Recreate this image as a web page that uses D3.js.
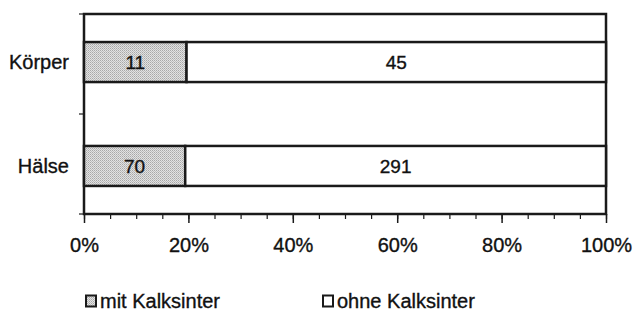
<!DOCTYPE html>
<html>
<head>
<meta charset="utf-8">
<script src="https://cdn.jsdelivr.net/npm/d3@7"></script>
<style>
  body { margin: 0; background: #fff; }
  svg text { font-family: "Liberation Sans", Arial, sans-serif; fill: #111; stroke: #111; stroke-width: 0.35px; }
</style>
</head>
<body>
<div class="container"></div>
<script>
var categories = ["Körper", "Hälse"];
var mitKalksinter = [11, 70];
var ohneKalksinter = [45, 291];
var seriesNames = ["mit Kalksinter", "ohne Kalksinter"];
var tickLabels = ["0%", "20%", "40%", "60%", "80%", "100%"];

var w = 635, h = 316;
var plotLeft = 84, plotRight = 606, plotTop = 14, plotBottom = 214;

var svg = d3.select(".container")
    .append("svg")
    .attr("width", w)
    .attr("height", h);

// stippled grey like the print
var pat = svg.append("defs").append("pattern")
    .attr("id", "stipple")
    .attr("width", 2).attr("height", 2)
    .attr("patternUnits", "userSpaceOnUse");
pat.append("rect").attr("width", 2).attr("height", 2).attr("fill", "#e2e2e2");
pat.append("rect").attr("width", 1).attr("height", 1).attr("fill", "#a8a8a8");
pat.append("rect").attr("x", 1).attr("y", 1).attr("width", 1).attr("height", 1).attr("fill", "#bdbdbd");

var x = d3.scaleLinear()
    .domain([0, 1])
    .range([plotLeft, plotRight]);

var y = d3.scaleBand()
    .domain(categories)
    .range([plotTop, plotBottom])
    .paddingInner(0.615)
    .paddingOuter(0.27);

// stacked percentages
var rows = categories.map(function(c, i) {
    var tot = mitKalksinter[i] + ohneKalksinter[i];
    return [
        {cat: c, x0: 0, x1: mitKalksinter[i] / tot, v: mitKalksinter[i], fill: "url(#stipple)"},
        {cat: c, x0: mitKalksinter[i] / tot, x1: 1, v: ohneKalksinter[i], fill: "#fff"}
    ];
});
var segs = [].concat.apply([], rows);

// plot frame
svg.append("rect")
    .attr("x", plotLeft).attr("y", plotTop)
    .attr("width", plotRight - plotLeft).attr("height", plotBottom - plotTop)
    .attr("fill", "none")
    .attr("stroke", "#1a1a1a")
    .attr("stroke-width", 2.5);

svg.selectAll(".seg")
    .data(segs)
    .enter()
    .append("rect")
    .attr("class", "seg")
    .attr("x", function(d) { return x(d.x0); })
    .attr("y", function(d) { return y(d.cat); })
    .attr("width", function(d) { return x(d.x1) - x(d.x0); })
    .attr("height", y.bandwidth())
    .attr("fill", function(d) { return d.fill; })
    .attr("stroke", "#1a1a1a")
    .attr("stroke-width", 2.5);

svg.selectAll(".val")
    .data(segs)
    .enter()
    .append("text")
    .attr("class", "val")
    .attr("x", function(d) { return (x(d.x0) + x(d.x1)) / 2; })
    .attr("y", function(d) { return y(d.cat) + y.bandwidth() / 2; })
    .attr("dy", "0.36em")
    .attr("text-anchor", "middle")
    .style("font-size", "19px")
    .text(function(d) { return d.v; });

// x axis: major ticks every 20%, minor every 5%
var xAxisMinor = d3.axisBottom(x)
    .tickValues(d3.range(0, 1.0001, 0.05))
    .tickSize(5)
    .tickFormat("");
svg.append("g")
    .attr("transform", "translate(0," + plotBottom + ")")
    .call(xAxisMinor)
    .call(function(g) { g.select(".domain").remove(); })
    .selectAll("line").attr("stroke", "#1a1a1a").attr("stroke-width", 1.2);

var xAxis = d3.axisBottom(x)
    .tickValues(d3.range(0, 1.0001, 0.2))
    .tickSize(9)
    .tickPadding(15)
    .tickFormat(function(d, i) { return tickLabels[i]; });
var xg = svg.append("g")
    .attr("transform", "translate(0," + plotBottom + ")")
    .call(xAxis);
xg.select(".domain").remove();
xg.selectAll("line").attr("stroke", "#1a1a1a").attr("stroke-width", 1.5);
xg.selectAll("text")
    .style("font-size", "20px")
    .attr("fill", "#111");

// y axis: ticks at category boundaries
var yTicks = svg.append("g");
yTicks.selectAll("line")
    .data([plotTop, (y("Körper") + y.bandwidth() + y("Hälse")) / 2, plotBottom])
    .enter()
    .append("line")
    .attr("x1", plotLeft - 5).attr("x2", plotLeft)
    .attr("y1", function(d) { return d; })
    .attr("y2", function(d) { return d; })
    .attr("stroke", "#1a1a1a")
    .attr("stroke-width", 1.2);

svg.selectAll(".cat")
    .data(categories)
    .enter()
    .append("text")
    .attr("class", "cat")
    .attr("x", plotLeft - 15)
    .attr("y", function(d) { return y(d) + y.bandwidth() / 2; })
    .attr("dy", "0.36em")
    .attr("text-anchor", "end")
    .style("font-size", "20px")
    .text(function(d) { return d; });

// legend
var legend = svg.selectAll(".leg")
    .data(seriesNames)
    .enter()
    .append("g")
    .attr("class", "leg")
    .attr("transform", function(d, i) { return "translate(" + (i === 0 ? 85 : 322) + ",295)"; });
legend.append("rect")
    .attr("x", 1).attr("y", 0.5)
    .attr("width", 10).attr("height", 11)
    .attr("fill", function(d, i) { return i === 0 ? "url(#stipple)" : "#fff"; })
    .attr("stroke", "#1a1a1a")
    .attr("stroke-width", 2);
legend.append("text")
    .attr("x", 15)
    .attr("y", 6)
    .attr("dy", "0.36em")
    .style("font-size", "20px")
    .text(function(d) { return d; });
</script>
</body>
</html>
